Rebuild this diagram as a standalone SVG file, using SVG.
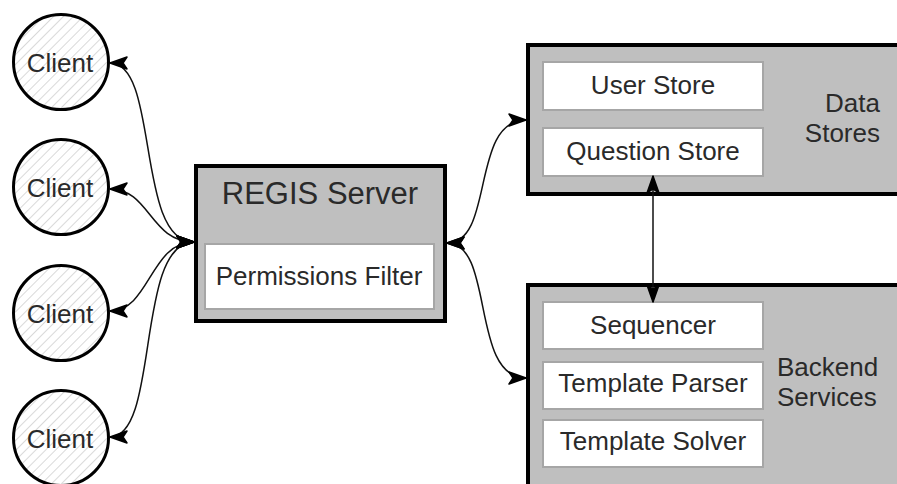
<svg xmlns="http://www.w3.org/2000/svg" width="897" height="484" viewBox="0 0 897 484">
<style>
text{font-family:"Liberation Sans",Arial,sans-serif;fill:#2a2a2a;}
.t{font-size:26px;text-anchor:middle;}
.outer{fill:#bfbfbf;stroke:#000;stroke-width:4;}
.inner{fill:#fff;stroke:#a6a6a6;stroke-width:2;}
.client{fill:url(#hatch);stroke:#000;stroke-width:3;}
.edge{fill:none;stroke:#111;stroke-width:1.5;marker-start:url(#arr);marker-end:url(#arr);}
</style>
<defs>
<pattern id="hatch" patternUnits="userSpaceOnUse" width="7" height="7" patternTransform="rotate(45)">
<rect width="7" height="7" fill="#fff"/>
<line x1="0" y1="0" x2="0" y2="7" stroke="#d9d9d9" stroke-width="2"/>
</pattern>
<marker id="arr" markerUnits="userSpaceOnUse" markerWidth="20" markerHeight="16" viewBox="0 0 20 16" refX="18" refY="8" orient="auto-start-reverse" overflow="visible">
<path d="M1,2 L18,8 L1,14 L5,8 z" fill="#000" stroke="#000" stroke-width="1.5" stroke-linejoin="round"/>
</marker>
</defs>
<g id="client1"><circle class="client" cx="61" cy="62" r="47.5"/><text class="t" x="60" y="72">Client</text></g>
<g id="client2"><circle class="client" cx="61" cy="187" r="47.5"/><text class="t" x="60" y="197">Client</text></g>
<g id="client3"><circle class="client" cx="61" cy="313" r="47.5"/><text class="t" x="60" y="323">Client</text></g>
<g id="client4"><circle class="client" cx="61" cy="438" r="47.5"/><text class="t" x="60" y="448">Client</text></g>
<g id="regis-server">
<rect class="outer" x="196" y="166" width="249" height="155"/>
<text x="320" y="204" style="font-size:31px;text-anchor:middle">REGIS Server</text>
<rect class="inner" x="205" y="244" width="229" height="65"/>
<text class="t" x="319" y="285">Permissions Filter</text>
</g>
<g id="data-stores">
<rect class="outer" x="528" y="45" width="400" height="149"/>
<rect class="inner" x="543" y="62" width="220" height="48"/>
<text class="t" x="653" y="94">User Store</text>
<rect class="inner" x="543" y="128" width="220" height="48"/>
<text class="t" x="653" y="160">Question Store</text>
<text x="880" y="112" style="font-size:26px;text-anchor:end">Data</text>
<text x="880" y="142" style="font-size:26px;text-anchor:end">Stores</text>
</g>
<g id="backend-services">
<rect class="outer" x="528" y="285" width="400" height="250"/>
<rect class="inner" x="543" y="302" width="220" height="47"/>
<text class="t" x="653" y="334">Sequencer</text>
<rect class="inner" x="543" y="362" width="220" height="47"/>
<text class="t" x="653" y="392">Template Parser</text>
<rect class="inner" x="543" y="420" width="220" height="47"/>
<text class="t" x="653" y="450">Template Solver</text>
<text x="777" y="376" style="font-size:26px">Backend</text>
<text x="777" y="406" style="font-size:26px">Services</text>
</g>
<g id="connectors">
<path class="edge" d="M110 63 C160 63 135 242 194 242"/>
<path class="edge" d="M110 189 C150 189 150 242 194 242"/>
<path class="edge" d="M110 311 C150 311 150 242 194 242"/>
<path class="edge" d="M110 437 C160 437 135 242 194 242"/>
<path class="edge" d="M447 243 C495 243 470 120 526 120"/>
<path class="edge" d="M447 243 C495 243 470 378 526 378"/>
<path class="edge" d="M653 176 L653 302"/>
</g>
</svg>
